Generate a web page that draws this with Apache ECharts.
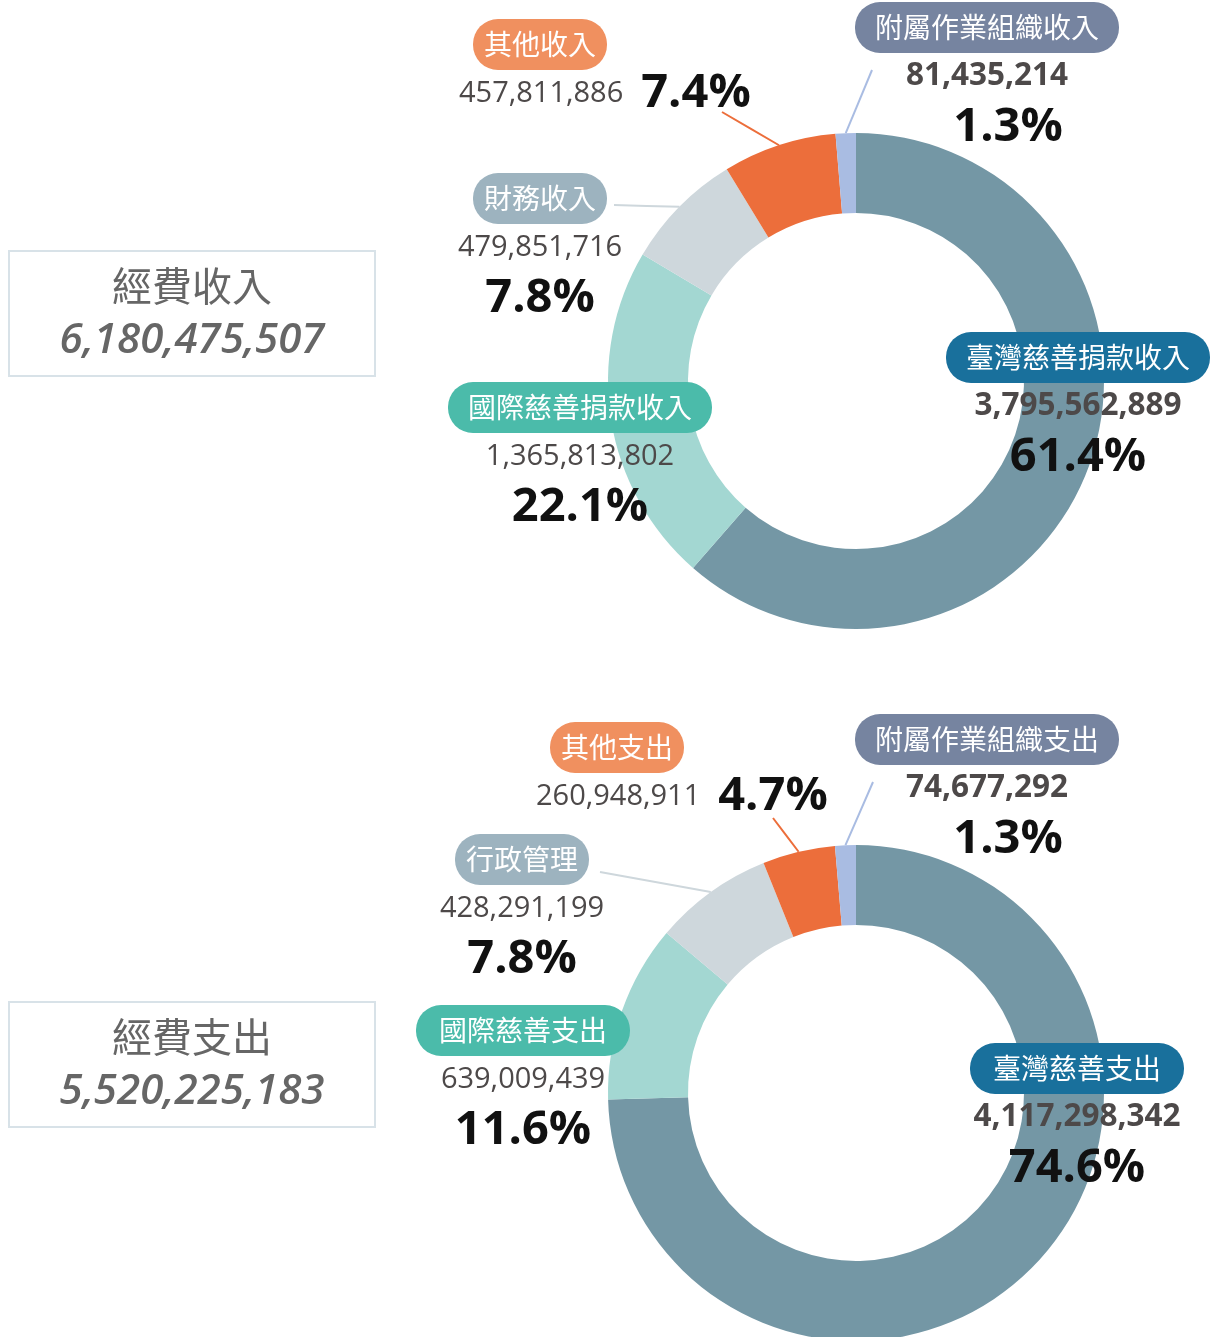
<!DOCTYPE html>
<html>
<head>
<meta charset="utf-8">
<script src="https://cdn.jsdelivr.net/npm/echarts@6/dist/echarts.min.js"></script>
<style>
html, body { margin: 0; padding: 0; background: #fff; }
#main { width: 1211px; height: 1337px; }
</style>
</head>
<body>
<div id="main"></div>
<script>
var incomeNames = ['臺灣慈善捐款收入', '國際慈善捐款收入', '財務收入', '其他收入', '附屬作業組織收入'];
var incomeValues = [3795562889, 1365813802, 479851716, 457811886, 81435214];
var expenseNames = ['臺灣慈善支出', '國際慈善支出', '行政管理', '其他支出', '附屬作業組織支出'];
var expenseValues = [4117298342, 639009439, 428291199, 260948911, 74677292];

var sliceColors = ['#7497a5', '#a3d7d2', '#ced7dc', '#ec6e3b', '#a9bce2'];
var badgeColors = ['#19709c', '#4bbbaa', '#9db3bf', '#f0905f', '#7684a0'];

var chart = echarts.init(document.getElementById('main'));

function fmt(n) { return echarts.format.addCommas(n); }
function total(arr) { return arr.reduce(function (s, v) { return s + v; }, 0); }

// where each label block sits: [x, top]; index 3 is left-anchored
var incomeSpots = [[1078, 333], [580, 383], [540, 174], [459, 20], [987, 3]];
var expenseSpots = [[1077, 1044], [523, 1006], [522, 835], [536, 723], [987, 715]];
// end of the leader lines
var incomeEnds = [null, null, [614, 205], [722, 112], [872, 70]];
var expenseEnds = [null, null, [600, 872], [773, 818], [873, 782]];
var badgePad = { 4: 11, 6: 23, 8: 20 };

function donut(names, values, cy, spots, ends) {
    var numFont = 'Open Sans';
    var rich = {
        v: { fontFamily: numFont, fontSize: 29, color: '#4d4949', lineHeight: 49, align: 'center' },
        vb: { fontFamily: numFont, fontSize: 31.5, fontWeight: 'bold', color: '#4d4949', lineHeight: 49, align: 'center' },
        vl: { fontFamily: numFont, fontSize: 29, color: '#4d4949', lineHeight: 47, align: 'left' },
        p: { fontFamily: numFont, fontSize: 47, fontWeight: 'bold', color: '#111', lineHeight: 53, align: 'center' },
        pr: { fontFamily: numFont, fontSize: 47, fontWeight: 'bold', color: '#111', lineHeight: 53, align: 'center', padding: [0, 0, 0, 42] },
        pl: { fontFamily: numFont, fontSize: 47, fontWeight: 'bold', color: '#111', lineHeight: 49, align: 'left', padding: [0, 0, 0, 18] },
        s: { width: 14, lineHeight: 49, align: 'left' }
    };
    names.forEach(function (n, i) {
        rich['b' + i] = {
            fontFamily: 'Noto Sans CJK TC',
            fontSize: 28,
            color: '#fff',
            lineHeight: 49,
            padding: [11.5, badgePad[n.length] || 16],
            borderRadius: 25,
            backgroundColor: badgeColors[i],
            align: i === 3 ? 'left' : 'center'
        };
    });

    var data = names.map(function (n, i) {
        var item = { name: n, value: values[i], itemStyle: { color: sliceColors[i] } };
        if (!ends[i]) item.labelLine = { show: false };
        return item;
    });

    return {
        type: 'pie',
        center: [856, cy],
        radius: [168, 248],
        startAngle: 90,
        clockwise: true,
        percentPrecision: 1,
        silent: true,
        itemStyle: { borderWidth: 0 },
        emphasis: { disabled: true },
        label: {
            show: true,
            position: 'outside',
            width: 400,
            overflow: 'none',
            rich: rich,
            formatter: function (p) {
                var i = p.dataIndex;
                var b = '{b' + i + '|' + p.name + '}';
                var val = fmt(p.value);
                var pct = p.percent.toFixed(1) + '%';
                if (i === 3) return '{s|}' + b + '\n{vl|' + val + '}{pl|' + pct + '}';
                if (i === 4) return b + '\n{vb|' + val + '}\n{pr|' + pct + '}';
                if (i === 0) return b + '\n{vb|' + val + '}\n{p|' + pct + '}';
                return b + '\n{v|' + val + '}\n{p|' + pct + '}';
            }
        },
        labelLine: { show: true, lineStyle: { width: 2 } },
        labelLayout: function (params) {
            var i = params.dataIndex;
            var out = {
                x: spots[i][0],
                y: spots[i][1],
                align: i === 3 ? 'left' : 'center',
                verticalAlign: 'top'
            };
            var e = ends[i];
            if (e && params.labelLinePoints) {
                var st = params.labelLinePoints[0];
                out.labelLinePoints = [st, [(st[0] + e[0]) / 2, (st[1] + e[1]) / 2], e];
            }
            return out;
        },
        data: data
    };
}

function totalBox(top, title, sumValue) {
    return [
        {
            type: 'rect',
            shape: { x: 9, y: top, width: 366, height: 125 },
            style: { fill: '#fff', stroke: '#d8e2e8', lineWidth: 2 }
        },
        {
            type: 'text',
            x: 192, y: top + 35,
            style: {
                text: title, align: 'center', verticalAlign: 'middle',
                fontFamily: 'Noto Sans CJK TC', fontSize: 40, fill: '#666'
            }
        },
        {
            type: 'text',
            x: 192, y: top + 90,
            style: {
                text: fmt(sumValue), align: 'center', verticalAlign: 'middle',
                fontFamily: 'Open Sans', fontStyle: 'italic', fontWeight: 600, fontSize: 42, fill: '#666'
            }
        }
    ];
}

chart.setOption({
    backgroundColor: '#fff',
    animation: false,
    graphic: totalBox(251, '經費收入', total(incomeValues)).concat(totalBox(1002, '經費支出', total(expenseValues))),
    series: [
        donut(incomeNames, incomeValues, 381, incomeSpots, incomeEnds),
        donut(expenseNames, expenseValues, 1093, expenseSpots, expenseEnds)
    ]
});
</script>
</body>
</html>
